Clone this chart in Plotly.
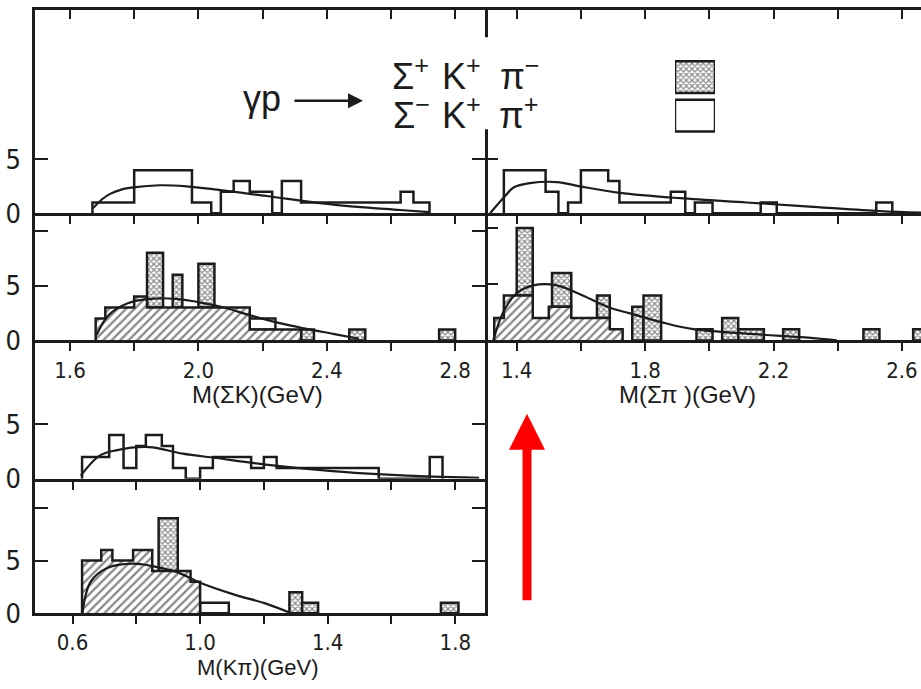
import plotly.graph_objects as go

# ---------------- data ----------------
# M(Sigma K): Sigma- K+ pi+ (open histogram), bin edges in GeV and events per bin
sk_open_edges = [1.67, 1.80, 1.98, 2.04, 2.07, 2.11, 2.16, 2.23, 2.26, 2.32, 2.63, 2.67, 2.72]
sk_open_counts = [1, 4, 1, 0, 2, 3, 2, 0, 3, 1, 2, 1]
sk_open_fit_m = [1.673, 1.70, 1.725, 1.76, 1.797, 1.88, 1.963, 2.057, 2.213, 2.42, 2.628, 2.72]
sk_open_fit_n = [0.5, 1.3, 1.8, 2.2, 2.4, 2.6, 2.5, 2.2, 1.6, 0.8, 0.3, 0.1]

# M(Sigma K): Sigma+ K+ pi- (hatched body + separately shaded cells)
sk_hat_edges = [1.68, 1.71, 1.80, 1.84, 2.16, 2.32]
sk_hat_counts = [2, 3, 4, 3, 1]
sk_cell_lo = [1.84, 1.92, 2.00, 2.16, 2.32, 2.47, 2.75]
sk_cell_hi = [1.89, 1.95, 2.05, 2.24, 2.36, 2.52, 2.80]
sk_cell_from = [3, 3, 3, 1, 0, 0, 0]
sk_cell_to = [8, 6, 7, 2, 1, 1, 1]
sk_cell_kind = ["x", "x", "x", "", "x", "x", "x"]
sk_hat_fit_m = [1.683, 1.72, 1.78, 1.85, 1.93, 2.00, 2.08, 2.16, 2.25, 2.33, 2.42, 2.50]
sk_hat_fit_n = [0.5, 2.3, 3.4, 3.8, 3.8, 3.5, 3.0, 2.3, 1.6, 1.1, 0.6, 0.15]

# M(Sigma pi): Sigma- pi+ (open)
sp_open_edges = [1.36, 1.49, 1.53, 1.56, 1.60, 1.685, 1.72, 1.88, 1.925, 1.955, 2.01, 2.16, 2.21, 2.52, 2.57]
sp_open_counts = [4, 2, 0, 1, 4, 3, 1, 2, 0, 1, 0, 1, 0, 1]
sp_open_fit_m = [1.317, 1.364, 1.39, 1.441, 1.525, 1.597, 1.722, 1.909, 2.116, 2.324, 2.532, 2.66]
sp_open_fit_n = [0.0, 1.6, 2.4, 2.8, 2.9, 2.5, 1.9, 1.4, 1.0, 0.6, 0.2, 0.05]

# M(Sigma pi): Sigma+ pi- (hatched)
sp_hat_edges = [1.33, 1.36, 1.45, 1.50, 1.57, 1.69, 1.73]
sp_hat_counts = [2, 4, 2, 3, 2, 1]
sp_cell_lo = [1.40, 1.51, 1.65, 1.76, 1.795, 1.96, 2.04, 2.09, 2.23, 2.48, 2.635]
sp_cell_hi = [1.45, 1.57, 1.69, 1.795, 1.85, 2.01, 2.09, 2.17, 2.28, 2.53, 2.69]
sp_cell_from = [4, 3, 2, 0, 0, 0, 0, 0, 0, 0, 0]
sp_cell_to = [10, 6, 4, 3, 4, 1, 2, 1, 1, 1, 1]
sp_cell_kind = ["x"] * 11
sp_hat_fit_m = [1.327, 1.358, 1.40, 1.452, 1.525, 1.597, 1.69, 1.753, 1.867, 1.95, 2.116, 2.324, 2.397]
sp_hat_fit_n = [0.0, 2.5, 4.2, 4.9, 4.9, 4.1, 2.9, 2.4, 1.5, 1.0, 0.6, 0.2, 0.0]

# M(K pi): from Sigma- K+ pi+ (open)
kp_open_edges = [0.63, 0.715, 0.76, 0.80, 0.83, 0.88, 0.915, 0.955, 1.00, 1.04, 1.16, 1.20, 1.24, 1.56, 1.72, 1.76]
kp_open_counts = [2, 4, 1, 3, 4, 3, 1, 0, 1, 2, 1, 2, 1, 0, 2]
kp_open_fit_m = [0.626, 0.684, 0.736, 0.84, 0.945, 1.05, 1.206, 1.415, 1.572, 1.729, 1.875]
kp_open_fit_n = [0.3, 2.1, 2.6, 2.9, 2.3, 1.9, 1.3, 0.7, 0.4, 0.2, 0.1]

# M(K pi): from Sigma+ K+ pi- (hatched)
kp_hat_edges = [0.63, 0.69, 0.725, 0.79, 0.85, 0.97, 1.00]
kp_hat_counts = [5, 6, 5, 6, 4, 3]
kp_cell_lo = [0.87, 1.00, 1.28, 1.32, 1.755]
kp_cell_hi = [0.93, 1.09, 1.32, 1.37, 1.81]
kp_cell_from = [4, 0, 0, 0, 0]
kp_cell_to = [9, 1, 2, 1, 1]
kp_cell_kind = ["x", "", "x", "x", "x"]
kp_hat_fit_m = [0.631, 0.657, 0.709, 0.792, 0.845, 0.928, 1.0, 1.105, 1.209, 1.282]
kp_hat_fit_n = [0.0, 3.0, 4.3, 4.7, 4.5, 3.9, 2.9, 1.8, 0.9, 0.05]

# axis ticks
sk_ticks = [1.6, 1.8, 2.0, 2.2, 2.4, 2.6, 2.8]
sk_ticktext = ["1.6", "", "2.0", "", "2.4", "", "2.8"]
sp_ticks = [1.4, 1.6, 1.8, 2.0, 2.2, 2.4, 2.6]
sp_ticktext = ["1.4", "", "1.8", "", "2.2", "", "2.6"]
kp_ticks = [0.6, 0.8, 1.0, 1.2, 1.4, 1.6, 1.8]
kp_ticktext = ["0.6", "", "1.0", "", "1.4", "", "1.8"]

legend_labels = ["Σ⁺K⁺π⁻", "Σ⁻K⁺π⁺"]

# ---------------- styling helpers ----------------
W, H = 921, 689
INK = "#1c1c1c"
NUMFONT = "Liberation Sans Narrow, DejaVu Sans Condensed, Liberation Sans, sans-serif"
TXTFONT = "Liberation Sans, Arial, sans-serif"


def fx(p):
    return p / W


def fy(p):
    return 1 - p / H


fig = go.Figure()


def step_xy(edges, counts):
    xs = [edges[0]] + list(edges)
    ys = [0] + list(counts) + [0]
    return xs, ys


def add_open(edges, counts, xa, ya):
    xs, ys = step_xy(edges, counts)
    fig.add_trace(go.Scatter(x=xs, y=ys, mode="lines", xaxis=xa, yaxis=ya,
                             line=dict(shape="hv", color=INK, width=2.5),
                             showlegend=False, hoverinfo="skip"))


def add_hatched(edges, counts, lo, hi, frm, to, kind, xa, ya):
    xs, ys = step_xy(edges, counts)
    fig.add_trace(go.Scatter(x=xs, y=ys, mode="lines", xaxis=xa, yaxis=ya,
                             fill="tozeroy", fillcolor="white",
                             fillpattern=dict(shape="/", size=6, solidity=0.38,
                                              fgcolor="#111111", bgcolor="white"),
                             line=dict(shape="hv", color=INK, width=2.5),
                             showlegend=False, hoverinfo="skip"))
    fig.add_trace(go.Bar(x=[(a + b) / 2 for a, b in zip(lo, hi)],
                         y=[t - f for f, t in zip(frm, to)],
                         base=frm,
                         width=[b - a for a, b in zip(lo, hi)],
                         xaxis=xa, yaxis=ya,
                         marker=dict(color="white", line=dict(color=INK, width=2.5),
                                     pattern=dict(shape=kind, size=4, solidity=0.5,
                                                  fgcolor="#111111", bgcolor="white")),
                         showlegend=False, hoverinfo="skip"))


def add_fit(m, n, xa, ya):
    fig.add_trace(go.Scatter(x=m, y=n, mode="lines", xaxis=xa, yaxis=ya,
                             line=dict(shape="spline", color=INK, width=2.2),
                             showlegend=False, hoverinfo="skip"))


add_open(sk_open_edges, sk_open_counts, "x", "y")
add_fit(sk_open_fit_m, sk_open_fit_n, "x", "y")
add_hatched(sk_hat_edges, sk_hat_counts, sk_cell_lo, sk_cell_hi, sk_cell_from, sk_cell_to, sk_cell_kind, "x2", "y2")
add_fit(sk_hat_fit_m, sk_hat_fit_n, "x2", "y2")
add_open(sp_open_edges, sp_open_counts, "x3", "y3")
add_fit(sp_open_fit_m, sp_open_fit_n, "x3", "y3")
add_hatched(sp_hat_edges, sp_hat_counts, sp_cell_lo, sp_cell_hi, sp_cell_from, sp_cell_to, sp_cell_kind, "x4", "y4")
add_fit(sp_hat_fit_m, sp_hat_fit_n, "x4", "y4")
add_open(kp_open_edges, kp_open_counts, "x5", "y5")
add_fit(kp_open_fit_m, kp_open_fit_n, "x5", "y5")
add_hatched(kp_hat_edges, kp_hat_counts, kp_cell_lo, kp_cell_hi, kp_cell_from, kp_cell_to, kp_cell_kind, "x6", "y6")
add_fit(kp_hat_fit_m, kp_hat_fit_n, "x6", "y6")

# empty traces so the top-edge tick axes get drawn
fig.add_trace(go.Scatter(x=[], y=[], xaxis="x7", yaxis="y", showlegend=False))
fig.add_trace(go.Scatter(x=[], y=[], xaxis="x8", yaxis="y3", showlegend=False))

# legend key boxes
fig.add_trace(go.Bar(x=[1, 1], y=legend_labels, orientation="h", width=0.82,
                     xaxis="x9", yaxis="y9",
                     marker=dict(color="white", line=dict(color=INK, width=2.5),
                                 pattern=dict(shape=["x", ""], size=4, solidity=0.5,
                                              fgcolor="#111111", bgcolor="white")),
                     showlegend=False, hoverinfo="skip"))

# ---------------- axes ----------------
LEFT = [fx(35), fx(485)]
RIGHT = [fx(485), 1.0]
SK_RANGE = [1.4910, 2.8929]
SP_RANGE = [1.30125, 2.6594]
KP_RANGE = [0.4824, 1.8932]


def xax(domain, rng, anchor, tv, tt, labels, mirror):
    return dict(domain=domain, range=rng, anchor=anchor, showline=True, linecolor=INK,
                linewidth=2.5, mirror=mirror, ticks="outside", ticklen=8, tickwidth=2,
                tickcolor=INK, tickvals=tv, ticktext=tt, showticklabels=labels,
                showgrid=False, zeroline=False, ticklabelstandoff=0,
                ticklabeloverflow="allow",
                tickfont=dict(family=NUMFONT, size=22, color=INK))


def yax(domain, rng, anchor, tv, labels, mirror, line=True):
    return dict(domain=domain, range=rng, anchor=anchor, showline=line, linecolor=INK,
                linewidth=2.5, mirror=mirror, ticks="inside", ticklen=13, tickwidth=2,
                tickcolor=INK, tickvals=tv, ticktext=[("" if v == 10 else str(v)) for v in tv],
                showticklabels=labels, showgrid=False, zeroline=False,
                ticklabelstandoff=6,
                tickfont=dict(family=NUMFONT, size=27, color=INK))


def top_ticks(over, rng, anchor, tv):
    return dict(overlaying=over, side="top", anchor=anchor, range=rng, showline=False,
                ticks="inside", ticklen=9, tickwidth=2, tickcolor=INK, tickvals=tv,
                showticklabels=False, showgrid=False, zeroline=False)


fig.update_layout(
    width=W, height=H, margin=dict(l=0, r=0, t=0, b=0),
    paper_bgcolor="white", plot_bgcolor="rgba(0,0,0,0)",
    barmode="overlay", showlegend=False,
    font=dict(family=TXTFONT, color=INK),
    xaxis=xax(LEFT, SK_RANGE, "y", sk_ticks, sk_ticktext, False, True),
    yaxis=yax([fy(218), fy(10)], [0, 208 / 11], "x", [0, 5], True, "ticks"),
    xaxis2=xax(LEFT, SK_RANGE, "y2", sk_ticks, sk_ticktext, True, False),
    yaxis2=yax([fy(348), fy(218)], [0, 130 / 11.2], "x2", [0, 5, 10], True, "ticks"),
    xaxis3=xax(RIGHT, SP_RANGE, "y3", sp_ticks, sp_ticktext, False, True),
    yaxis3=yax([fy(218), fy(10)], [0, 208 / 11], "x3", [0, 5], False, False, line=False),
    xaxis4=xax(RIGHT, SP_RANGE, "y4", sp_ticks, sp_ticktext, True, False),
    yaxis4=yax([fy(348), fy(218)], [0, 130 / 11.5], "x4", [0, 5, 10], False, False, line=False),
    xaxis5=xax(LEFT, KP_RANGE, "y5", kp_ticks, kp_ticktext, False, False),
    yaxis5=yax([fy(489.5), fy(348)], [0, 141.5 / 11.2], "x5", [0, 5], True, "ticks"),
    xaxis6=xax(LEFT, KP_RANGE, "y6", kp_ticks, kp_ticktext, True, False),
    yaxis6=yax([fy(627), fy(489.5)], [0, 137.5 / 10.8], "x6", [0, 5, 10], True, "ticks"),
    xaxis7=top_ticks("x", SK_RANGE, "y", sk_ticks),
    xaxis8=top_ticks("x3", SP_RANGE, "y3", sp_ticks),
    xaxis9=dict(domain=[fx(675), fx(715)], range=[0, 1], anchor="y9", visible=False),
    yaxis9=dict(domain=[fy(138), fy(59)], anchor="x9", visible=False,
                autorange="reversed", type="category"),
)

# ---------------- text and decorations ----------------
def label(text, cx, cy, size):
    return dict(text=text, x=fx(cx), y=fy(cy), xref="paper", yref="paper",
                xanchor="center", yanchor="middle", showarrow=False,
                font=dict(family=TXTFONT, size=size, color=INK))


ann = [
    label("M(ΣK)(GeV)", 257, 403, 24),
    label("M(Σπ )(GeV)", 687, 403, 24),
    label("M(Kπ)(GeV)", 258, 682, 22),
    label("γp", 262, 101, 36),
]
# reaction arrow
ann.append(dict(text="", x=fx(363), y=fy(103), xref="paper", yref="paper",
                showarrow=True, ax=-70, ay=0, arrowhead=2, arrowsize=1.2,
                arrowwidth=2.5, arrowcolor=INK, standoff=0))
row1 = [("Σ<sup>+</sup>", 410), ("K<sup>+</sup>", 461), ("π<sup>−</sup>", 520)]
row2 = [("Σ<sup>−</sup>", 411), ("K<sup>+</sup>", 461), ("π<sup>+</sup>", 519)]
for txt, cx in row1:
    ann.append(label(txt, cx, 76, 36))
for txt, cx in row2:
    ann.append(label(txt, cx, 116, 36))

# red pointer to the Sigma(1385) region
ann.append(dict(text="", x=fx(527), y=fy(423), xref="paper", yref="paper",
                showarrow=True, ax=0, ay=188, arrowhead=2, arrowsize=0.8,
                arrowwidth=9, arrowcolor="#ff0000", standoff=0))

fig.update_layout(annotations=ann)

# the frame line is interrupted behind the reaction label
fig.add_shape(type="rect", xref="paper", yref="paper", x0=fx(478), x1=fx(492),
              y0=fy(132), y1=fy(38), fillcolor="white", line=dict(width=0), layer="above")

fig.write_html("out.html")
